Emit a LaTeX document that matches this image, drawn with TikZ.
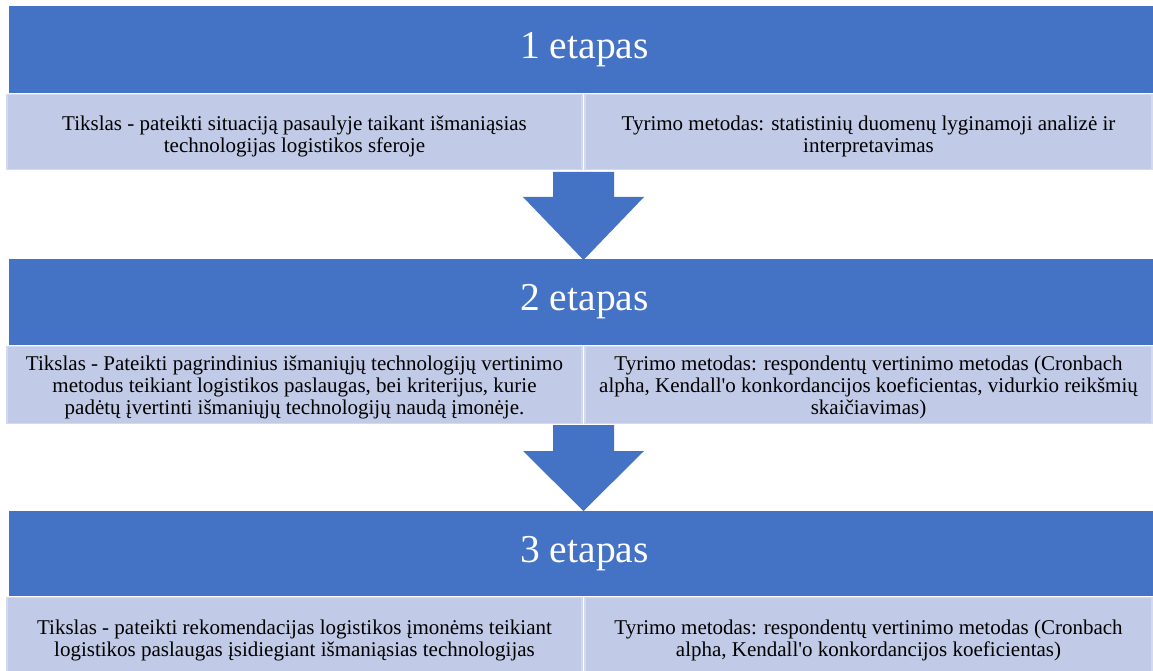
\documentclass[tikz,border=0pt]{standalone}
\usepackage{fontspec}
\setmainfont{Liberation Serif}
\definecolor{hdrblue}{RGB}{68,114,196}
\definecolor{cellfill}{RGB}{193,202,230}
\definecolor{cellline}{RGB}{212,218,238}
\tikzset{
  hdr/.style={fill=hdrblue, inner sep=0pt, minimum width=1144pt},
  hdrtext/.style={text=white, inner sep=0pt, font=\fontsize{39.5}{42}\selectfont},
  cell/.style={fill=cellfill, draw=cellline, line width=1.5pt, inner sep=0pt},
  celltext/.style={inner sep=0pt, align=center, font=\fontsize{21}{22}\selectfont},
  blockarrow/.style={fill=hdrblue}
}
\newcommand{\apos}{\textquotesingle}
\begin{document}
\begin{tikzpicture}[x=1pt,y=-1pt]
\useasboundingbox (0,0) rectangle (1153,671);

% stage 1
\node[hdr, minimum height=87pt] (h1) at (581,49.5) {};
\node[hdrtext] (ht1) at ([xshift=3.5pt]h1.center) {1 etapas};
\node[cell, minimum width=575pt, minimum height=75pt] (c1l) at (294.5,132) {};
\node[cell, minimum width=567pt, minimum height=75pt] (c1r) at (868.5,132) {};
\node[celltext] (t1l) at ([yshift=-4pt]c1l.center)
  {Tikslas - pateikti situaciją pasaulyje taikant išmaniąsias\\technologijas logistikos sferoje};
\node[celltext] (t1r) at ([yshift=-4pt]c1r.center)
  {Tyrimo metodas: statistinių duomenų lyginamoji analizė ir\\interpretavimas};

% stage 2
\node[hdr, minimum height=86pt] (h2) at (581,302) {};
\node[hdrtext] (ht2) at ([xshift=3.5pt]h2.center) {2 etapas};
\node[cell, minimum width=575pt, minimum height=77pt] (c2l) at (294.5,385) {};
\node[cell, minimum width=567pt, minimum height=77pt] (c2r) at (868.5,385) {};
\node[celltext] (t2l) at ([yshift=-2pt]c2l.center)
  {Tikslas - Pateikti pagrindinius išmaniųjų technologijų vertinimo\\metodus teikiant logistikos paslaugas, bei kriterijus, kurie\\padėtų įvertinti išmaniųjų technologijų naudą įmonėje.};
\node[celltext] (t2r) at ([yshift=-2pt]c2r.center)
  {Tyrimo metodas: respondentų vertinimo metodas (Cronbach\\alpha, Kendall\apos o konkordancijos koeficientas, vidurkio reikšmių\\skaičiavimas)};

% stage 3
\node[hdr, minimum height=85pt] (h3) at (581,553.5) {};
\node[hdrtext] (ht3) at ([xshift=3.5pt]h3.center) {3 etapas};
\node[cell, minimum width=575pt, minimum height=74pt] (c3l) at (294.5,634.5) {};
\node[cell, minimum width=567pt, minimum height=74pt] (c3r) at (868.5,634.5) {};
\node[celltext] (t3l) at ([yshift=-5.5pt]c3l.center)
  {Tikslas - pateikti rekomendacijas logistikos įmonėms teikiant\\logistikos paslaugas įsidiegiant išmaniąsias technologijas};
\node[celltext] (t3r) at ([yshift=-5.5pt]c3r.center)
  {Tyrimo metodas: respondentų vertinimo metodas (Cronbach\\alpha, Kendall\apos o konkordancijos koeficientas)};

% block arrows between the stages
\fill[blockarrow] (553,172) -- (614,172) -- (614,197) -- (644,197)
  -- (583.5,260) -- (523,197) -- (553,197) -- cycle;
\fill[blockarrow] (553,425) -- (614,425) -- (614,451) -- (644,451)
  -- (583.5,511) -- (523,451) -- (553,451) -- cycle;
\end{tikzpicture}
\end{document}
